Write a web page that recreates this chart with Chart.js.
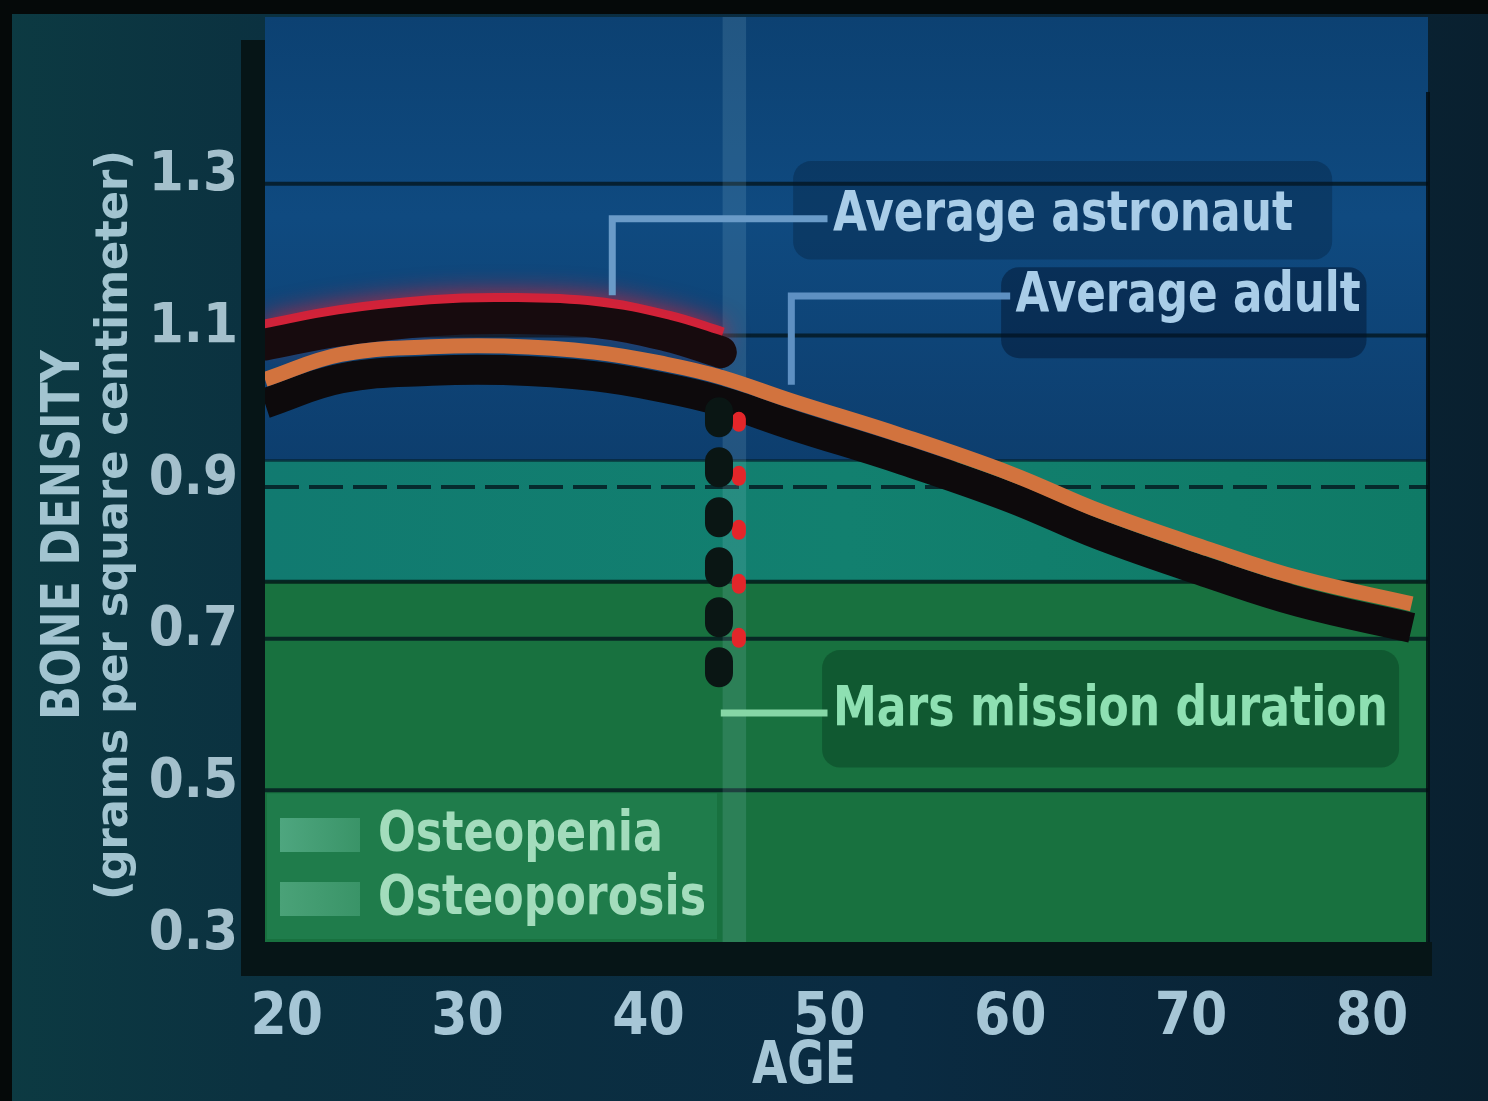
<!DOCTYPE html>
<html>
<head>
<meta charset="utf-8">
<script src="https://cdn.jsdelivr.net/npm/chart.js@4.4.1/dist/chart.umd.min.js"></script>
<style>
html, body { margin: 0; padding: 0; background: #071418; }
#wrap { position: relative; width: 1488px; height: 1101px; }
</style>
</head>
<body>
<div id="wrap"><canvas id="c" width="1488" height="1101"></canvas></div>
<script>
// values (age in years, bone density in g/cm2)
const adultAges = [18.8, 23, 28, 32, 37, 41, 44, 48, 54, 60, 65, 71, 76, 82.2];
const adultDensity = [1.042, 1.075, 1.085, 1.086, 1.078, 1.062, 1.045, 1.013, 0.968, 0.918, 0.868, 0.818, 0.78, 0.746];
const astronautAges = [18.8, 23, 28, 32, 37, 41, 44];
const astronautDensity = [1.088, 1.107, 1.12, 1.123, 1.118, 1.1, 1.078];
const missionAges = [43.9, 43.9];
const missionDensity = [1.0, 0.635];
const missionRedAges = [45.0, 45.0];
const missionRedDensity = [0.99, 0.66];

const xTicks = [20, 30, 40, 50, 60, 70, 80];
const yTicks = [0.3, 0.5, 0.7, 0.9, 1.1, 1.3];
const gridValues = [1.3, 1.1, 0.9, 0.7, 0.5];
const osteopeniaTop = 0.935;
const osteoporosisTop = 0.775;
const missionStart = 44.1, missionEnd = 45.4;

const FONT = '"Liberation Sans Narrow", "DejaVu Sans Condensed", "Arial Narrow", sans-serif';

const toPts = (xs, ys) => xs.map((x, i) => ({ x: x, y: ys[i] }));

// labels that point at the curves, anchored in data units
const notes = [
  { text: 'Average astronaut', age: 50.2, y: 1.258, width: 460, color: '#a9cde8',
    line: [[38.0, 1.153], [38.0, 1.254], [49.9, 1.254]], lineColor: '#6a9bc8',
    box: [48.0, 1.33, 77.8, 1.2], boxColor: 'rgba(4,22,48,0.3)' },
  { text: 'Average adult', age: 60.3, y: 1.152, width: 345, color: '#a9cde8',
    line: [[47.9, 1.035], [47.9, 1.152], [60.0, 1.152]], lineColor: '#5e90c2',
    box: [59.5, 1.19, 79.7, 1.07], boxColor: 'rgba(3,18,42,0.45)' },
  { text: 'Mars mission duration', age: 50.2, y: 0.605, width: 555, color: '#8ee0b2',
    line: [[44.0, 0.602], [49.9, 0.602]], lineColor: '#86d6a6',
    box: [49.6, 0.685, 81.5, 0.53], boxColor: 'rgba(3,45,22,0.35)' }
];

function fitText(ctx, text, x, y, w, size, color) {
  ctx.save();
  ctx.font = 'bold ' + size + 'px ' + FONT;
  const m = ctx.measureText(text).width;
  ctx.translate(x, y);
  ctx.scale(w / m, 1);
  ctx.fillStyle = color;
  ctx.textAlign = 'left';
  ctx.textBaseline = 'middle';
  ctx.fillText(text, 0, 0);
  ctx.restore();
}

const decor = {
  id: 'decor',
  beforeDraw(chart) {
    const ctx = chart.ctx;
    const W = chart.width, H = chart.height;
    ctx.save();
    const g = ctx.createLinearGradient(0, 0, W, 0);
    g.addColorStop(0, '#0c3a42');
    g.addColorStop(0.18, '#0b3140');
    g.addColorStop(0.6, '#0a2b42');
    g.addColorStop(1, '#09202f');
    ctx.fillStyle = g;
    ctx.fillRect(0, 0, W, H);
    ctx.fillStyle = '#050909';
    ctx.fillRect(0, 0, W, 14);
    ctx.fillRect(0, 0, 12, H);
    ctx.restore();
  },
  beforeDatasetsDraw(chart) {
    const ctx = chart.ctx;
    const { left, right, top, bottom } = chart.chartArea;
    const x = chart.scales.x, y = chart.scales.y;
    const yPen = y.getPixelForValue(osteopeniaTop);
    const yPor = y.getPixelForValue(osteoporosisTop);
    ctx.save();
    // normal zone
    let g = ctx.createLinearGradient(0, top, 0, yPen);
    g.addColorStop(0, '#0c4172');
    g.addColorStop(0.45, '#0f4a80');
    g.addColorStop(1, '#0d3e6e');
    ctx.fillStyle = g;
    ctx.fillRect(left, top, right - left, yPen - top);
    // osteopenia zone
    g = ctx.createLinearGradient(left, 0, right, 0);
    g.addColorStop(0, '#117a70');
    g.addColorStop(0.5, '#12806f');
    g.addColorStop(1, '#0f7a66');
    ctx.fillStyle = g;
    ctx.fillRect(left, yPen, right - left, yPor - yPen);
    // osteoporosis zone
    ctx.fillStyle = '#18713f';
    ctx.fillRect(left, yPor, right - left, bottom - yPor);

    // legend panel backdrop
    const y5 = y.getPixelForValue(0.5);
    ctx.fillStyle = '#1f7c4b';
    ctx.fillRect(left + 2, y5 + 3, 450, bottom - y5 - 6);

    // grid lines
    ctx.strokeStyle = 'rgba(4,22,30,0.8)';
    ctx.lineWidth = 4;
    gridValues.forEach(v => {
      const py = y.getPixelForValue(v);
      ctx.setLineDash(v === 0.9 ? [34, 10] : []);
      ctx.beginPath();
      ctx.moveTo(left, py);
      ctx.lineTo(right, py);
      ctx.stroke();
    });
    ctx.setLineDash([]);
    ctx.lineWidth = 3;
    ctx.strokeStyle = 'rgba(4,30,40,0.55)';
    ctx.beginPath(); ctx.moveTo(left, yPen); ctx.lineTo(right, yPen); ctx.stroke();
    ctx.strokeStyle = 'rgba(4,26,24,0.85)';
    ctx.lineWidth = 4;
    ctx.beginPath(); ctx.moveTo(left, yPor); ctx.lineTo(right, yPor); ctx.stroke();

    // mission band
    const xa = x.getPixelForValue(missionStart), xb = x.getPixelForValue(missionEnd);
    ctx.fillStyle = 'rgba(170,220,235,0.14)';
    ctx.fillRect(xa, top, xb - xa, bottom - top);

    // note backdrops
    notes.forEach(n => {
      const bx = x.getPixelForValue(n.box[0]), by = y.getPixelForValue(n.box[1]);
      const bx2 = x.getPixelForValue(n.box[2]), by2 = y.getPixelForValue(n.box[3]);
      ctx.fillStyle = n.boxColor;
      ctx.beginPath();
      ctx.roundRect(bx, by, bx2 - bx, by2 - by, 18);
      ctx.fill();
    });

    // axis bands
    ctx.fillStyle = '#061517';
    ctx.fillRect(left - 24, 40, 24, bottom - 40 + 34);
    ctx.fillRect(left - 24, bottom, right - left + 28, 34);
    ctx.fillStyle = 'rgba(4,14,20,0.85)';
    ctx.fillRect(right - 2, top + 75, 4, bottom - top - 75);
    ctx.restore();
  },
  beforeDatasetDraw(chart, args) {
    const ds = chart.data.datasets[args.index];
    const ctx = chart.ctx;
    ctx.save();
    if (ds.shiftY) ctx.translate(0, ds.shiftY);
    if (ds.glow) { ctx.shadowColor = ds.glow; ctx.shadowBlur = 24; }
  },
  afterDatasetDraw(chart) {
    chart.ctx.restore();
  },
  afterDatasetsDraw(chart) {
    const ctx = chart.ctx;
    const { left } = chart.chartArea;
    const x = chart.scales.x, y = chart.scales.y;
    ctx.save();
    // connector lines and labels
    notes.forEach(n => {
      ctx.strokeStyle = n.lineColor;
      ctx.lineWidth = 7;
      ctx.lineJoin = 'miter';
      ctx.beginPath();
      n.line.forEach((p, i) => {
        const px = x.getPixelForValue(p[0]), py = y.getPixelForValue(p[1]);
        if (i === 0) ctx.moveTo(px, py); else ctx.lineTo(px, py);
      });
      ctx.stroke();
      fitText(ctx, n.text, x.getPixelForValue(n.age), y.getPixelForValue(n.y), n.width, 56, n.color);
    });
    // legend
    const sw = [
      { text: 'Osteopenia', color: '#4ea67f', y: 835, w: 285 },
      { text: 'Osteoporosis', color: '#4aa278', y: 899, w: 328 }
    ];
    sw.forEach(s => {
      const g = ctx.createLinearGradient(left + 15, 0, left + 95, 0);
      g.addColorStop(0, s.color);
      g.addColorStop(1, '#3a9468');
      ctx.fillStyle = g;
      ctx.fillRect(left + 15, s.y - 17, 80, 34);
      fitText(ctx, s.text, left + 113, s.y, s.w, 56, '#a3dcbc');
    });
    ctx.restore();
  },
  afterDraw(chart) {
    const ctx = chart.ctx;
    ctx.save();
    ctx.translate(65, 535);
    ctx.rotate(-Math.PI / 2);
    fitText(ctx, 'BONE DENSITY', -185, 0, 370, 54, '#a2c4d0');
    ctx.restore();
    ctx.save();
    ctx.translate(116, 525);
    ctx.rotate(-Math.PI / 2);
    fitText(ctx, '(grams per square centimeter)', -375, 0, 750, 44, '#a2c4d0');
    ctx.restore();
    fitText(ctx, 'AGE', 752, 1068, 104, 58, '#a6c6d6');
  }
};

const lineBase = { pointRadius: 0, pointHoverRadius: 0, fill: false, tension: 0.4, clip: 0 };

new Chart(document.getElementById('c'), {
  type: 'line',
  data: {
    datasets: [
      Object.assign({}, lineBase, { label: 'Adult shadow', data: toPts(adultAges, adultDensity),
        borderColor: '#0d0a0c', borderWidth: 30, shiftY: 24, order: 6 }),
      Object.assign({}, lineBase, { label: 'Astronaut glow', data: toPts(astronautAges, astronautDensity),
        borderColor: 'rgba(226,32,52,0.85)', borderWidth: 26, shiftY: -12, glow: 'rgba(235,30,50,0.9)', order: 5 }),
      Object.assign({}, lineBase, { label: 'Average astronaut', data: toPts(astronautAges, astronautDensity),
        borderColor: '#170b0e', borderWidth: 32, borderCapStyle: 'round', order: 4 }),
      Object.assign({}, lineBase, { label: 'Average adult', data: toPts(adultAges, adultDensity),
        borderColor: '#d2733e', borderWidth: 15, order: 3 }),
      Object.assign({}, lineBase, { label: 'Mission loss (red)', data: toPts(missionRedAges, missionRedDensity),
        borderColor: '#e3262a', borderWidth: 14, borderDash: [6, 48], borderCapStyle: 'round', tension: 0, order: 2 }),
      Object.assign({}, lineBase, { label: 'Mars mission loss', data: toPts(missionAges, missionDensity),
        borderColor: '#0a1614', borderWidth: 28, borderDash: [12, 38], borderCapStyle: 'round', tension: 0, order: 1 })
    ]
  },
  options: {
    responsive: false,
    animation: false,
    events: [],
    layout: { padding: { top: 17, right: 60, bottom: 0, left: 0 } },
    plugins: { legend: { display: false }, tooltip: { enabled: false } },
    scales: {
      x: {
        type: 'linear', min: 18.8, max: 83.1,
        grid: { display: false, drawTicks: false },
        border: { display: false },
        afterBuildTicks: s => { s.ticks = xTicks.map(v => ({ value: v })); },
        afterFit: s => { s.height = 159; s.paddingLeft = 0; s.paddingRight = 0; },
        ticks: { padding: 42, color: '#a6c6d6', font: { family: FONT, size: 58, weight: 'bold' },
          callback: v => String(v) }
      },
      y: {
        type: 'linear', min: 0.3, max: 1.52,
        grid: { display: false, drawTicks: false },
        border: { display: false },
        afterBuildTicks: s => { s.ticks = yTicks.map(v => ({ value: v })); },
        afterFit: s => { s.width = 265; s.paddingTop = 0; s.paddingBottom = 0; },
        ticks: { padding: 27, labelOffset: -8, color: '#a4c0cc', font: { family: FONT, size: 56, weight: 'bold' },
          callback: v => Number(v).toFixed(1) }
      }
    }
  },
  plugins: [decor]
});
</script>
</body>
</html>
